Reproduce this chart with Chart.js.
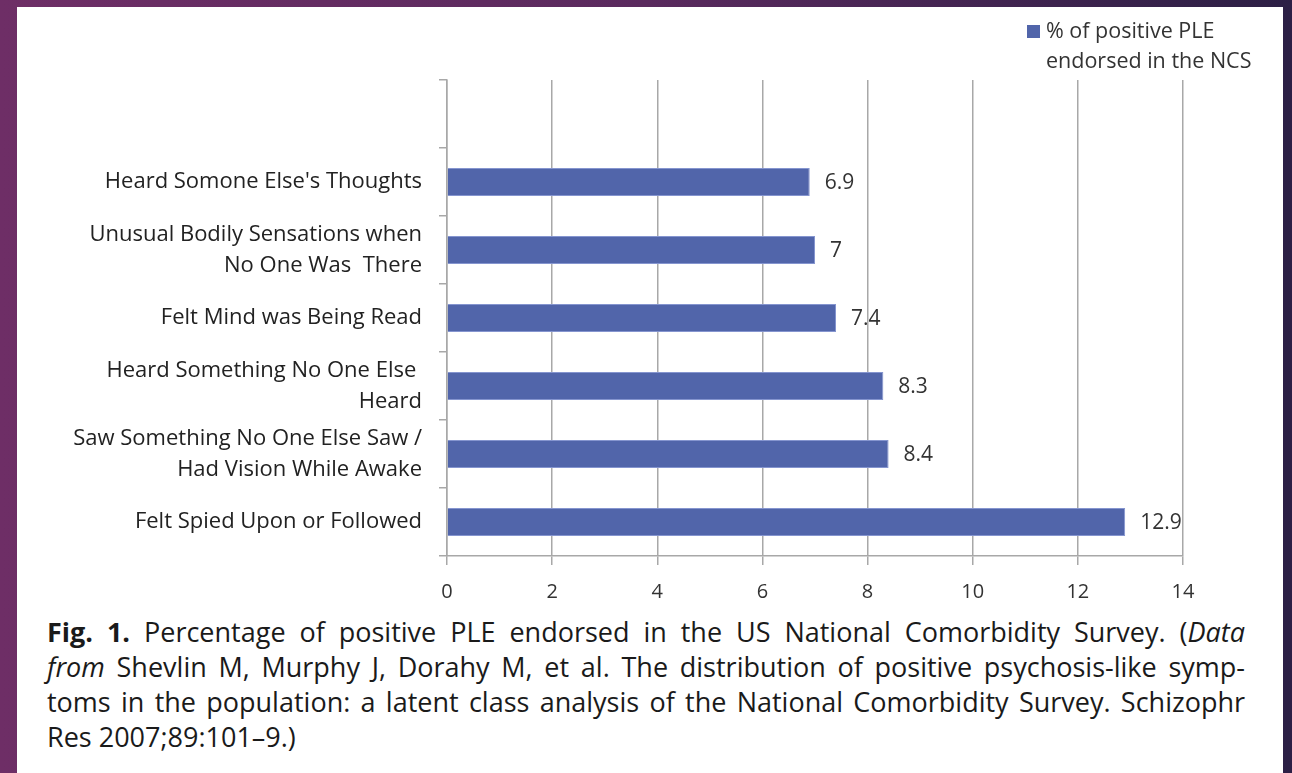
<!DOCTYPE html>
<html>
<head>
<meta charset="utf-8">
<script src="https://cdn.jsdelivr.net/npm/chart.js@4"></script>
<style>
  html, body { margin: 0; padding: 0; }
  body {
    width: 1292px; height: 773px; overflow: hidden; position: relative;
    background: linear-gradient(90deg, #6e2e66 0%, #5a2a5e 50%, #2c1f45 100%);
    font-family: "Open Sans", sans-serif;
  }
  #panel { position: absolute; left: 17px; top: 7px; width: 1266px; height: 766px; background: #fff; }
  #chartWrap { position: absolute; left: 0; top: 0; width: 1266px; height: 605px; }
  #legend { position: absolute; left: 1010px; top: 8px; font-family: "Open Sans", sans-serif; font-size: 21.5px; color: #333; line-height: 30px; }
  #legend .sw { display: inline-block; width: 13px; height: 13px; background: #5165aa; margin-right: 6px; vertical-align: 0px; }
  #legend .l2 { padding-left: 19px; }
  #caption { position: absolute; left: 30px; top: 607px; width: 1198px; font-size: 27px; line-height: 35px; color: #1a1a1a; }
  #caption div { text-align: justify; text-align-last: justify; white-space: nowrap; }
  #caption div.last { text-align-last: left; }
</style>
</head>
<body>
<div id="panel">
  <div id="chartWrap"><canvas id="c" width="1266" height="605"></canvas></div>
  <div id="legend"><div><span class="sw"></span>% of positive PLE</div><div class="l2">endorsed in the NCS</div></div>
  <div id="caption">
    <div><b>Fig. 1.</b> Percentage of positive PLE endorsed in the US National Comorbidity Survey. (<i>Data</i></div>
    <div><i>from</i> Shevlin M, Murphy J, Dorahy M, et al. The distribution of positive psychosis-like symp-</div>
    <div>toms in the population: a latent class analysis of the National Comorbidity Survey. Schizophr</div>
    <div class="last">Res 2007;89:101–9.)</div>
  </div>
</div>
<script>
const categories = [
  "",
  "Heard Somone Else's Thoughts",
  ["Unusual Bodily Sensations when", "No One Was  There"],
  "Felt Mind was Being Read",
  ["Heard Something No One Else ", "Heard"],
  ["Saw Something No One Else Saw /", "Had Vision While Awake"],
  "Felt Spied Upon or Followed"
];
const seriesName = "% of positive PLE endorsed in the NCS";
const values = [null, 6.9, 7, 7.4, 8.3, 8.4, 12.9];
const valueLabels = ["", "6.9", "7", "7.4", "8.3", "8.4", "12.9"];
const xTicks = [0, 2, 4, 6, 8, 10, 12, 14];

const barLabels = {
  id: 'barLabels',
  afterDatasetsDraw(chart) {
    const ctx = chart.ctx;
    const meta = chart.getDatasetMeta(0);
    ctx.save();
    ctx.font = '21px "Open Sans", sans-serif';
    ctx.fillStyle = '#333';
    ctx.textBaseline = 'middle';
    ctx.textAlign = 'left';
    meta.data.forEach((el, i) => {
      if (values[i] == null) return;
      ctx.fillText(valueLabels[i], el.x + 15, el.y + 1);
    });
    ctx.restore();
  }
};

new Chart(document.getElementById('c'), {
  type: 'bar',
  data: {
    labels: categories,
    datasets: [{
      label: seriesName,
      data: values,
      backgroundColor: '#5165aa',
      borderColor: '#8595cf',
      borderWidth: 1,
      barPercentage: 0.82,
      categoryPercentage: 0.5
    }]
  },
  options: {
    indexAxis: 'y',
    responsive: false,
    animation: false,
    layout: { padding: { left: 0, right: 100, top: 73, bottom: 0 } },
    plugins: { legend: { display: false }, tooltip: { enabled: false } },
    scales: {
      x: {
        min: 0, max: 14,
        afterBuildTicks(scale) { scale.ticks = xTicks.map(v => ({ value: v })); },
        afterFit(scale) { scale.height = 56; },
        grid: { color: '#a8a8a8', lineWidth: 1.5, tickLength: 9, drawTicks: true },
        border: { color: '#a8a8a8', width: 1.5 },
        ticks: { color: '#333', font: { family: '"Open Sans", sans-serif', size: 20 }, padding: 15 }
      },
      y: {
        afterFit(scale) { scale.width = 430; },
        grid: { drawOnChartArea: false, drawTicks: true, tickLength: 8, color: '#a8a8a8', lineWidth: 1.5 },
        border: { color: '#a8a8a8', width: 1.5 },
        ticks: { color: '#222', font: { family: '"Open Sans", sans-serif', size: 22, lineHeight: 1.4 }, padding: 17 }
      }
    }
  },
  plugins: [barLabels]
});
</script>
</body>
</html>
